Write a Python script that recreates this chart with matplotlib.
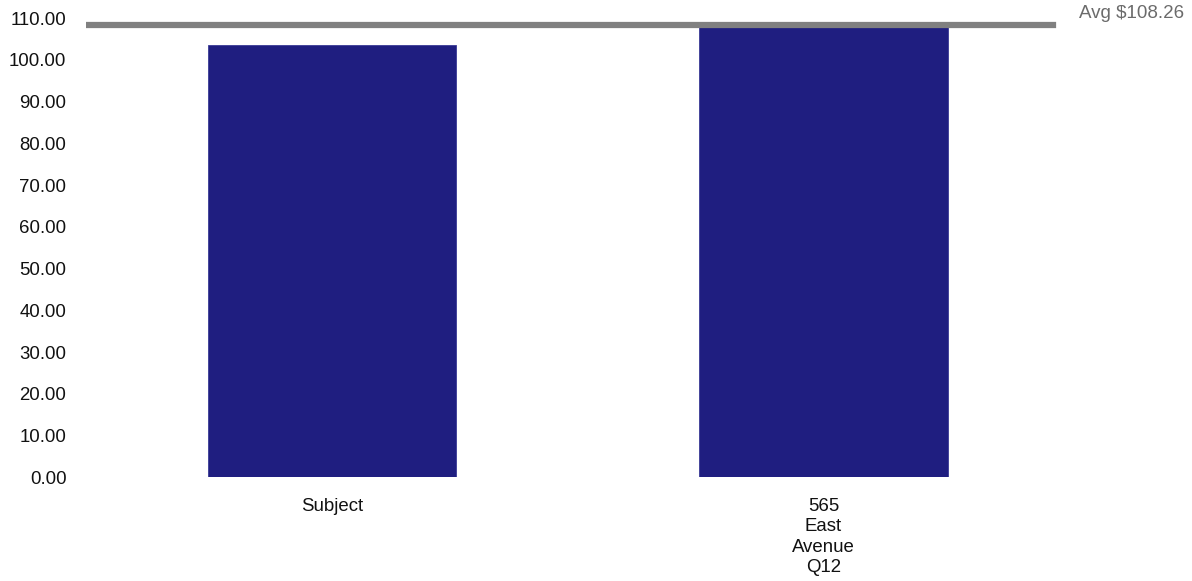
import matplotlib
matplotlib.use("Agg")
import matplotlib.pyplot as plt

# rent per unit by property
categories = ["Subject", "565\nEast\nAvenue\nQ12"]
values = [103.6, 108.0]
avg_value = 108.26
y_ticks = [0, 10, 20, 30, 40, 50, 60, 70, 80, 90, 100, 110]

plt.rcParams['font.family'] = ['Liberation Sans', 'DejaVu Sans']

fig = plt.figure(figsize=(11.92, 5.81), dpi=100)
ax = fig.add_axes([0.0721, 0.1785, 0.825, 0.7905])

x = range(len(categories))
ax.bar(x, values, width=0.505, color="#1f1e80", edgecolor="#3a3a96", linewidth=0.6, zorder=2)

# average line with its label
ax.axhline(avg_value, xmin=0, xmax=0.983, color="#808080", linewidth=4.5, zorder=3)
ax.annotate(r"Avg \$%.2f" % avg_value, xy=(1.01, avg_value), xycoords=("axes fraction", "data"),
            xytext=(0, 2), textcoords="offset points", ha="left", va="bottom",
            fontsize=13.5, color="#6b6b6b", annotation_clip=False)

ax.set_xlim(-0.5, 1.5)
ax.set_ylim(0, 110)
ax.set_yticks(y_ticks)
ax.set_yticklabels(["%.2f" % v for v in y_ticks])
ax.set_xticks(list(x))
ax.set_xticklabels(categories, linespacing=1.25)
ax.tick_params(axis="both", length=0, labelsize=13.4, colors="#111111")
ax.tick_params(axis="y", pad=14)
ax.tick_params(axis="x", pad=15)
for s in ax.spines.values():
    s.set_visible(False)

fig.savefig("out.png", dpi=100)
